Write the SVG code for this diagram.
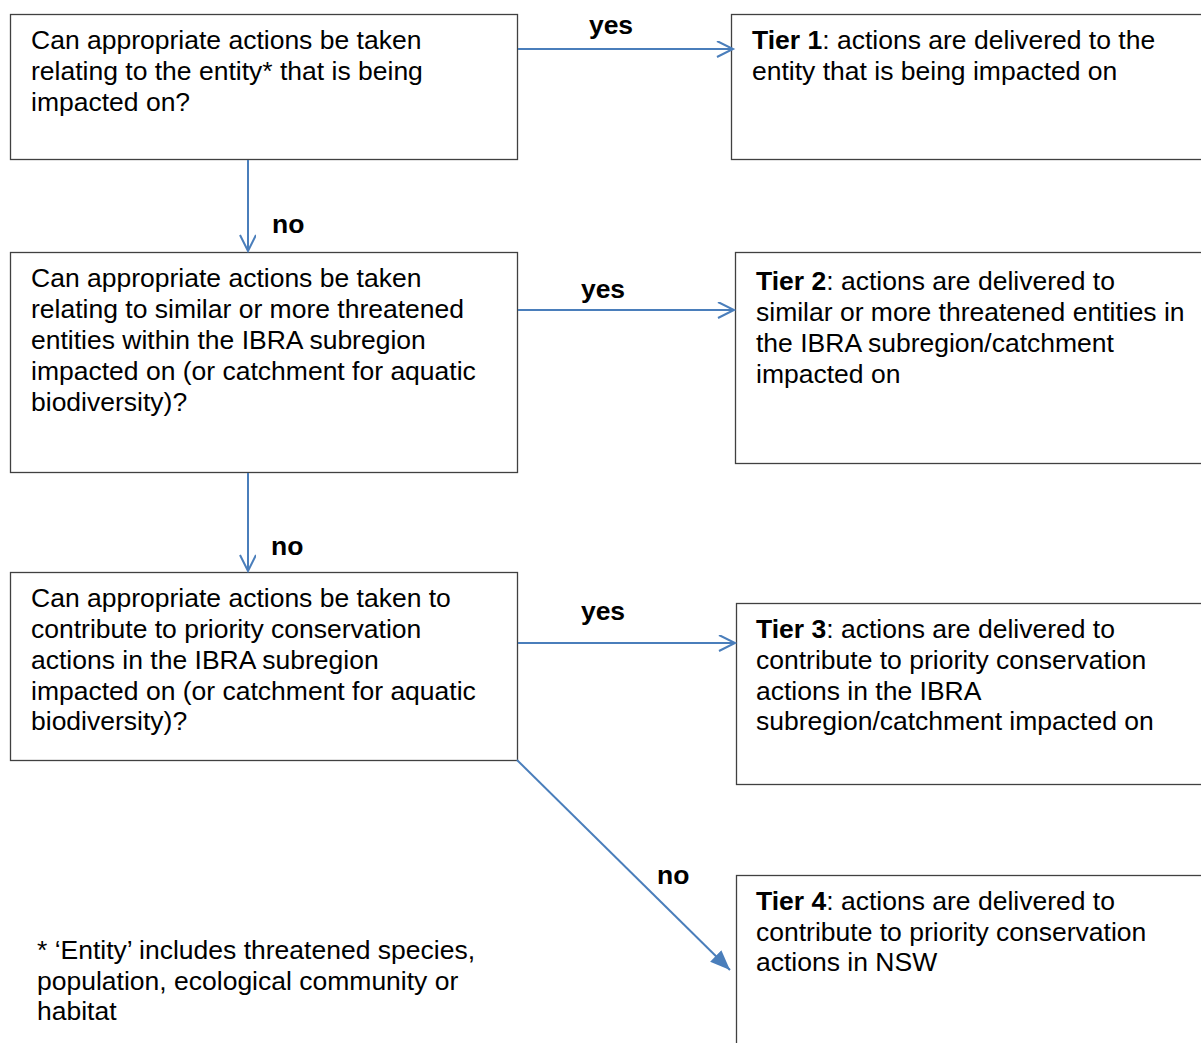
<svg xmlns="http://www.w3.org/2000/svg" width="1201" height="1043" viewBox="0 0 1201 1043">
<style>
.box{fill:#fff;stroke:#404040;stroke-width:1.3}
.t{font-family:"Liberation Sans",Arial,sans-serif;font-size:26.5px;fill:#000}
.lb{font-family:"Liberation Sans",Arial,sans-serif;font-size:26.5px;font-weight:bold;fill:#000}
.c{stroke:#4a7ebb;stroke-width:2;fill:none}
</style>
<defs>
<marker id="open" markerWidth="20" markerHeight="20" refX="17" refY="8" orient="auto" markerUnits="userSpaceOnUse">
<path d="M1,0 L17,8 L1,16" fill="none" stroke="#4a7ebb" stroke-width="2"/>
</marker>
<marker id="fill" markerWidth="24" markerHeight="20" refX="20" refY="8" orient="auto" markerUnits="userSpaceOnUse">
<path d="M0,0 L20,8 L0,16 Z" fill="#4a7ebb"/>
</marker>
</defs>
<rect width="1201" height="1043" fill="#fff"/>
<g id="q1">
<rect class="box" x="10.5" y="14.5" width="507" height="145"/>
<text class="t" x="31" y="49">Can appropriate actions be taken</text>
<text class="t" x="31" y="80">relating to the entity* that is being</text>
<text class="t" x="31" y="111">impacted on?</text>
</g>
<g id="t1">
<rect class="box" x="731.5" y="14.5" width="500" height="145"/>
<text class="t" x="752" y="49"><tspan font-weight="bold">Tier 1</tspan>: actions are delivered to the</text>
<text class="t" x="752" y="80">entity that is being impacted on</text>
</g>
<g id="q2">
<rect class="box" x="10.5" y="252.5" width="507" height="220"/>
<text class="t" x="31" y="287">Can appropriate actions be taken</text>
<text class="t" x="31" y="318">relating to similar or more threatened</text>
<text class="t" x="31" y="349">entities within the IBRA subregion</text>
<text class="t" x="31" y="380">impacted on (or catchment for aquatic</text>
<text class="t" x="31" y="411">biodiversity)?</text>
</g>
<g id="t2">
<rect class="box" x="735.5" y="252.5" width="500" height="211"/>
<text class="t" x="756" y="290"><tspan font-weight="bold">Tier 2</tspan>: actions are delivered to</text>
<text class="t" x="756" y="321">similar or more threatened entities in</text>
<text class="t" x="756" y="352">the IBRA subregion/catchment</text>
<text class="t" x="756" y="383">impacted on</text>
</g>
<g id="q3">
<rect class="box" x="10.5" y="572.5" width="507" height="188"/>
<text class="t" x="31" y="607">Can appropriate actions be taken to</text>
<text class="t" x="31" y="638">contribute to priority conservation</text>
<text class="t" x="31" y="669">actions in the IBRA subregion</text>
<text class="t" x="31" y="700">impacted on (or catchment for aquatic</text>
<text class="t" x="31" y="730">biodiversity)?</text>
</g>
<g id="t3">
<rect class="box" x="736.5" y="603.5" width="500" height="181"/>
<text class="t" x="756" y="638"><tspan font-weight="bold">Tier 3</tspan>: actions are delivered to</text>
<text class="t" x="756" y="669">contribute to priority conservation</text>
<text class="t" x="756" y="700">actions in the IBRA</text>
<text class="t" x="756" y="730">subregion/catchment impacted on</text>
</g>
<g id="t4">
<rect class="box" x="736.5" y="875.5" width="500" height="200"/>
<text class="t" x="756" y="910"><tspan font-weight="bold">Tier 4</tspan>: actions are delivered to</text>
<text class="t" x="756" y="941">contribute to priority conservation</text>
<text class="t" x="756" y="971">actions in NSW</text>
</g>
<g id="note">
<text class="t" x="37" y="959">* ‘Entity’ includes threatened species,</text>
<text class="t" x="37" y="990">population, ecological community or</text>
<text class="t" x="37" y="1020">habitat</text>
</g>
<g id="connectors">
<line class="c" x1="518" y1="49" x2="733" y2="49" marker-end="url(#open)"/>
<line class="c" x1="248" y1="160" x2="248" y2="251" marker-end="url(#open)"/>
<line class="c" x1="518" y1="310" x2="734" y2="310" marker-end="url(#open)"/>
<line class="c" x1="248" y1="473" x2="248" y2="571" marker-end="url(#open)"/>
<line class="c" x1="518" y1="643" x2="735" y2="643" marker-end="url(#open)"/>
<line class="c" x1="517" y1="760" x2="730" y2="970" marker-end="url(#fill)"/>
<text class="lb" x="611" y="34" text-anchor="middle">yes</text>
<text class="lb" x="272" y="233">no</text>
<text class="lb" x="603" y="298" text-anchor="middle">yes</text>
<text class="lb" x="271" y="555">no</text>
<text class="lb" x="603" y="620" text-anchor="middle">yes</text>
<text class="lb" x="657" y="884">no</text>
</g>
</svg>
